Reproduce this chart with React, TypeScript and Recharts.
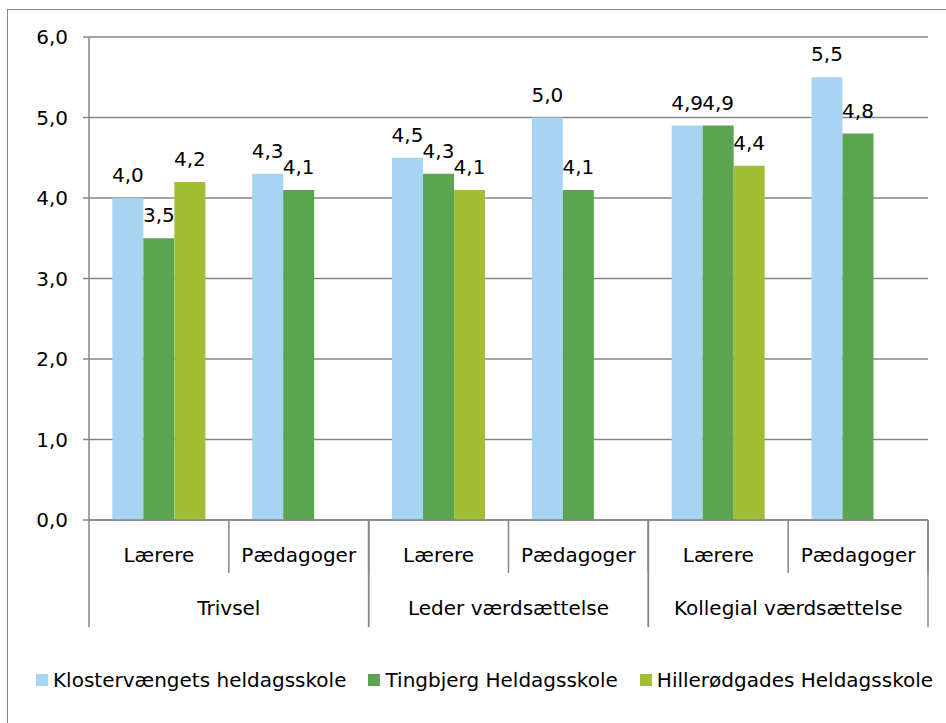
import React from 'react';
import { BarChart, Bar, XAxis, YAxis, CartesianGrid, LabelList, Legend } from 'recharts';

const categories = ['Lærere', 'Pædagoger', 'Lærere', 'Pædagoger', 'Lærere', 'Pædagoger'];
const groups = ['Trivsel', 'Trivsel', 'Leder værdsættelse', 'Leder værdsættelse', 'Kollegial værdsættelse', 'Kollegial værdsættelse'];
const klostervaenget = [4.0, 4.3, 4.5, 5.0, 4.9, 5.5];
const tingbjerg = [3.5, 4.1, 4.3, 4.1, 4.9, 4.8];
const hillerod: (number | null)[] = [4.2, null, 4.1, null, 4.4, null];
const yTicks = [0, 1, 2, 3, 4, 5, 6];

const seriesNames = ['Klostervængets heldagsskole', 'Tingbjerg Heldagsskole', 'Hillerødgades Heldagsskole'];
const seriesColors = ['#A8D4F4', '#5BA552', '#A2BE35'];

const data = categories.map((c, i) => ({
  idx: i,
  cat: c,
  group: groups[i],
  k: klostervaenget[i],
  t: tingbjerg[i],
  h: hillerod[i],
}));

const W = 946;
const H = 723;
const FONT = '"DejaVu Sans", Verdana, sans-serif';
const AXIS = '#868686';
const MARGIN = { top: 37, right: 18, left: 29, bottom: 28 };
const YW = 60;
const LEG_H = 30;
const X1_H = 54;
const X2_H = 91;
const PLOT_LEFT = MARGIN.left + YW;
const PLOT_W = W - MARGIN.right - PLOT_LEFT;
const PLOT_BOTTOM = H - MARGIN.bottom - LEG_H - X1_H - X2_H;

const fmt = (v: any) => (v === null || v === undefined ? '' : Number(v).toFixed(1).replace('.', ','));

const InnerTick = (props: any) => {
  const { x, payload } = props;
  const bw = PLOT_W / categories.length;
  const right = x + bw / 2;
  return (
    <g>
      <text x={x} y={PLOT_BOTTOM + 42} textAnchor="middle" fill="#000" fontSize={20} fontFamily={FONT}>
        {categories[payload.value]}
      </text>
      <line x1={right} x2={right} y1={PLOT_BOTTOM} y2={PLOT_BOTTOM + 53} stroke={AXIS} strokeWidth={1.5} />
    </g>
  );
};

const OuterTick = (props: any) => {
  const { x, payload } = props;
  const uniq = Array.from(new Set(groups));
  const bw = PLOT_W / uniq.length;
  return (
    <g>
      <text x={x} y={PLOT_BOTTOM + 95} textAnchor="middle" fill="#000" fontSize={20} fontFamily={FONT}>
        {payload.value}
      </text>
      <line x1={x - bw / 2} x2={x - bw / 2} y1={PLOT_BOTTOM} y2={PLOT_BOTTOM + 107} stroke={AXIS} strokeWidth={1.5} />
      <line x1={x + bw / 2} x2={x + bw / 2} y1={PLOT_BOTTOM} y2={PLOT_BOTTOM + 107} stroke={AXIS} strokeWidth={1.5} />
    </g>
  );
};

const LegendContent = () => (
  <div style={{ height: LEG_H, display: 'flex', alignItems: 'center', paddingLeft: 36, fontFamily: FONT, fontSize: 20, color: '#000', whiteSpace: 'nowrap' }}>
    {seriesNames.map((n, i) => (
      <div key={n} style={{ display: 'flex', alignItems: 'center', marginRight: 22 }}>
        <span style={{ display: 'inline-block', width: 12, height: 12, background: seriesColors[i], marginRight: 5 }} />
        <span>{n}</span>
      </div>
    ))}
  </div>
);

export default function App() {
  return (
    <div style={{ position: 'absolute', left: 0, top: 0, width: W, height: H, overflow: 'hidden', background: '#fff' }}>
      <div style={{ position: 'absolute', left: 7, top: 9, width: W, height: H, border: `1.5px solid ${AXIS}`, boxSizing: 'border-box' }} />
      <div style={{ position: 'absolute', left: 0, top: 0 }}>
        <BarChart width={W} height={H} data={data} margin={MARGIN} barCategoryGap="16.7%" barGap={0}>
          <CartesianGrid vertical={false} stroke={AXIS} strokeWidth={1.5} />
          <XAxis xAxisId={0} dataKey="idx" type="category" height={X1_H} tickLine={false} axisLine={{ stroke: AXIS, strokeWidth: 1.5 }} tick={<InnerTick />} interval={0} />
          <XAxis xAxisId="grp" dataKey="group" type="category" allowDuplicatedCategory={false} height={X2_H} tickLine={false} axisLine={false} tick={<OuterTick />} interval={0} />
          <YAxis
            width={YW}
            domain={[0, 6]}
            ticks={yTicks}
            tickFormatter={fmt}
            tickSize={6}
            tickMargin={15}
            axisLine={{ stroke: AXIS, strokeWidth: 1.5 }}
            tickLine={{ stroke: AXIS, strokeWidth: 1.5 }}
            tick={{ fill: '#000', fontSize: 20, fontFamily: FONT }}
            interval={0}
          />
          <Legend verticalAlign="bottom" content={<LegendContent />} wrapperStyle={{ left: 0, width: W }} />
          <Bar dataKey="k" name={seriesNames[0]} fill={seriesColors[0]} isAnimationActive={false}>
            <LabelList dataKey="k" position="top" offset={16} formatter={fmt} fill="#000" fontSize={20} fontFamily={FONT} />
          </Bar>
          <Bar dataKey="t" name={seriesNames[1]} fill={seriesColors[1]} isAnimationActive={false}>
            <LabelList dataKey="t" position="top" offset={16} formatter={fmt} fill="#000" fontSize={20} fontFamily={FONT} />
          </Bar>
          <Bar dataKey="h" name={seriesNames[2]} fill={seriesColors[2]} isAnimationActive={false}>
            <LabelList dataKey="h" position="top" offset={16} formatter={fmt} fill="#000" fontSize={20} fontFamily={FONT} />
          </Bar>
        </BarChart>
      </div>
    </div>
  );
}
